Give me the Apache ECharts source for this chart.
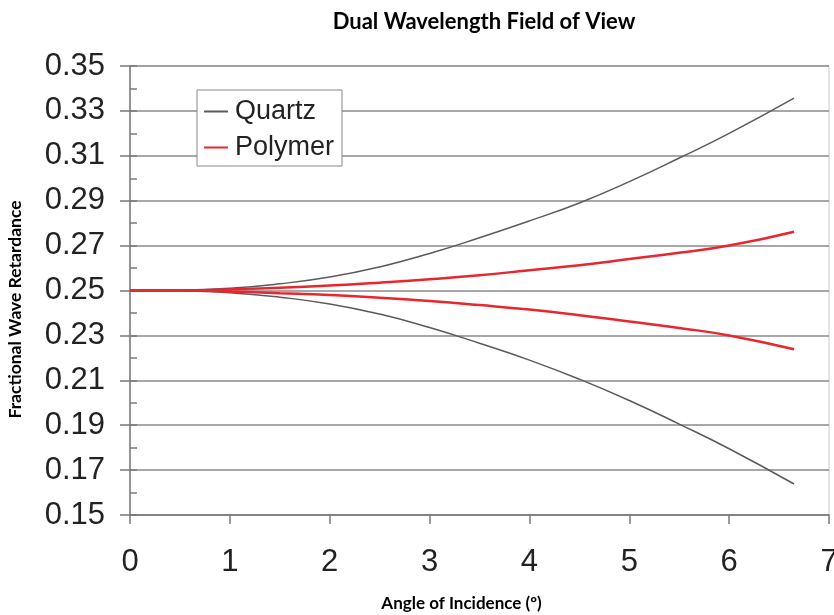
<!DOCTYPE html>
<html>
<head>
<meta charset="utf-8">
<script src="https://cdn.jsdelivr.net/npm/echarts@6/dist/echarts.min.js"></script>
<style>
html,body{margin:0;padding:0;background:#fff;overflow:hidden;}
#chart{width:834px;height:615px;}
</style>
</head>
<body>
<div id="chart"></div>
<script>
// Angle of incidence (degrees)
var angles = [0, 0.5, 1, 1.5, 2, 2.5, 3, 3.5, 4, 4.5, 5, 5.5, 6, 6.65];
// Quartz retardance (upper and lower branches)
var quartzUpper = [0.250, 0.2502, 0.2510, 0.2530, 0.2560, 0.2605, 0.2665, 0.2735, 0.2810, 0.2890, 0.2985, 0.3090, 0.3200, 0.3357];
var quartzLower = [0.250, 0.2498, 0.2490, 0.2470, 0.2440, 0.2395, 0.2335, 0.2265, 0.2190, 0.2105, 0.2010, 0.1905, 0.1795, 0.1638];
// Polymer retardance (upper and lower branches)
var polymerUpper = [0.250, 0.2500, 0.2505, 0.2512, 0.2522, 0.2535, 0.2550, 0.2568, 0.2590, 0.2612, 0.2640, 0.2668, 0.2700, 0.2762];
var polymerLower = [0.250, 0.2500, 0.2495, 0.2488, 0.2480, 0.2468, 0.2453, 0.2435, 0.2415, 0.2390, 0.2362, 0.2333, 0.2300, 0.2238];

var seriesNames = ['Quartz', 'Polymer'];
var titleText = 'Dual Wavelength Field of View';
var xName = 'Angle of Incidence (\u00BA)';
var yName = 'Fractional Wave Retardance';

function pairs(xs, ys) { return xs.map(function (x, i) { return [x, ys[i]]; }); }

var chart = echarts.init(document.getElementById('chart'));
var qColor = '#5a5a5a', pColor = '#e8262e';
chart.setOption({
  animation: false,
  title: {
    text: titleText, left: 479, top: 6, textAlign: 'center',
    textStyle: { fontFamily: 'Lato', fontWeight: 'bold', fontSize: 22, color: '#000' }
  },
  legend: {
    orient: 'vertical', left: 197, top: 90,
    data: seriesNames,
    icon: 'rect', itemWidth: 24, itemHeight: 2, itemGap: 9,
    backgroundColor: '#fff', borderColor: '#888', borderWidth: 1,
    padding: [8, 8, 5, 7],
    textStyle: { fontFamily: 'Liberation Sans', fontSize: 27, color: '#222', padding: [0, 0, 0, 2] }
  },
  grid: { left: 130, right: 5, top: 66, bottom: 100, outerBoundsMode: 'none', containLabel: false,
    show: true, borderColor: '#c8c8c8', borderWidth: 1, backgroundColor: 'transparent' },
  xAxis: {
    type: 'value', min: 0, max: 7, interval: 1,
    name: xName, nameLocation: 'middle', nameGap: 80,
    nameTextStyle: { fontFamily: 'Lato', fontWeight: 'bold', fontSize: 17, color: '#000', padding: [0, 36, 0, 0] },
    axisLine: { show: true, lineStyle: { color: '#7a7a7a', width: 1.5 } },
    axisTick: { show: true, length: 9, lineStyle: { color: '#7a7a7a', width: 1.5 } },
    axisLabel: { fontFamily: 'Liberation Sans', fontSize: 31, color: '#222', margin: 32 },
    splitLine: { show: false }
  },
  yAxis: [{
    type: 'value', min: 0.15, max: 0.35, interval: 0.02,
    name: yName, nameLocation: 'middle', nameGap: 106, nameRotate: 90,
    nameTextStyle: { fontFamily: 'Lato', fontWeight: 'bold', fontSize: 17.5, color: '#000', padding: [0, 38, 0, 0] },
    axisLine: { show: true, lineStyle: { color: '#7a7a7a', width: 1.5 } },
    axisTick: { show: true, length: 10, lineStyle: { color: '#7a7a7a', width: 1.5 } },
    axisLabel: { fontFamily: 'Liberation Sans', fontSize: 31, color: '#222', margin: 25,
      formatter: function (v) { return v.toFixed(2); } },
    splitLine: { show: true, lineStyle: { color: '#8a8a8a', width: 1.5 } }
  }, {
    type: 'value', min: 0.15, max: 0.35, interval: 0.02, position: 'left',
    axisLine: { show: false },
    axisTick: { show: true, inside: true, length: 7, lineStyle: { color: '#7a7a7a', width: 1.5 } },
    minorTick: { show: true, splitNumber: 2, length: 7, lineStyle: { color: '#7a7a7a', width: 1.5 } },
    axisLabel: { show: false },
    splitLine: { show: false }
  }],
  series: [
    { name: 'Quartz', type: 'line', data: pairs(angles, quartzUpper), smooth: true, showSymbol: false, color: qColor, lineStyle: { color: qColor, width: 1.5 } },
    { name: 'Quartz', type: 'line', data: pairs(angles, quartzLower), smooth: true, showSymbol: false, color: qColor, lineStyle: { color: qColor, width: 1.5 } },
    { name: 'Polymer', type: 'line', data: pairs(angles, polymerUpper), smooth: true, showSymbol: false, color: pColor, lineStyle: { color: pColor, width: 2.5 } },
    { name: 'Polymer', type: 'line', data: pairs(angles, polymerLower), smooth: true, showSymbol: false, color: pColor, lineStyle: { color: pColor, width: 2.5 } }
  ]
});
</script>
</body>
</html>
